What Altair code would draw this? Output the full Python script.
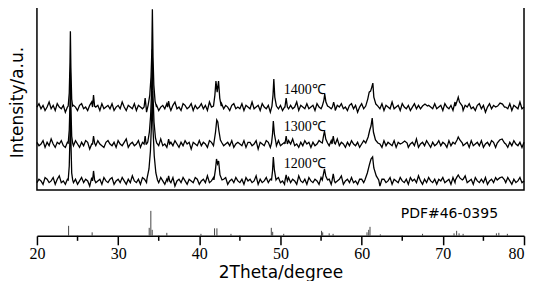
import altair as alt
import pandas as pd

# ---------------- data ----------------
# sampling grid of the measured patterns (degrees 2-theta)
grid_start = 20.0
grid_step = 0.25
grid_count = 241

# vertical offsets of the stacked patterns (a.u.)
samples = ["1200℃", "1300℃", "1400℃"]
offsets = [9, 46, 83]
label_lift = 17
label_two_theta = 50.4

# baseline noise, one value per grid point, in noise counts
noise_unit = 1.7  # a.u. per noise count
noise_1400 = [0,2,-1,1,-2,0,3,-1,1,-2,2,0,-1,1,-3,0,2,-1,1,0,
 -2,1,2,-1,0,-2,1,3,-1,0,1,-2,2,-1,0,1,-1,2,-2,0,
 1,-1,3,0,-2,1,0,-1,2,-2,1,0,-1,2,-3,1,0,2,-1,1,
 -2,0,1,-1,2,0,-2,1,3,-1,0,-2,2,1,-1,0,2,-2,1,-1,
 0,2,-1,1,-2,3,0,-1,1,-2,0,2,-1,1,0,-2,1,2,-1,0,
 -1,2,-2,1,0,-1,3,-1,0,1,-2,2,0,-1,1,-3,1,0,2,-1,
 1,-2,0,2,-1,1,-1,0,3,-2,1,0,-1,2,-1,0,1,-2,2,0,
 -1,1,-2,3,0,-1,1,-2,1,0,2,-1,0,-2,1,2,-1,1,-3,0,
 2,-1,1,0,-2,1,2,-1,0,-1,2,-2,1,0,-1,3,-1,0,1,-2,
 2,0,-1,1,-2,0,2,-1,1,-1,0,3,-2,1,0,-1,2,-1,0,1,
 -2,2,0,-1,1,-2,3,0,-1,1,-2,1,0,2,-1,0,-2,1,2,-1,
 1,-3,0,2,-1,1,0,-2,1,2,-1,0,-1,2,-2,1,0,-1,3,-1,
 0]
noise_1300 = [1,-1,0,2,-2,1,-1,3,0,-2,1,0,2,-1,-2,1,0,1,-1,2,
 0,-2,1,-1,2,1,-3,0,1,-1,2,0,-1,-2,1,2,0,-1,1,-2,
 2,0,-1,1,3,-2,0,1,-1,0,2,-2,1,-1,0,2,1,-2,0,1,
 -1,3,-1,0,-2,1,1,-1,2,0,-2,1,-1,2,0,1,-3,1,0,-1,
 2,-1,1,0,-2,2,1,-1,0,1,-2,3,-1,0,1,-1,2,-2,0,1,
 0,-1,2,-2,1,1,-1,0,2,-3,1,0,-1,2,1,-2,0,1,-1,2,
 -1,0,1,-2,2,0,3,-1,0,-2,1,-1,2,0,1,-2,1,-1,0,2,
 1,-2,0,1,-1,2,-2,0,3,-1,1,0,-2,1,-1,2,0,-1,1,-2,
 0,2,-1,1,-2,0,1,3,-1,0,-2,2,-1,1,0,-1,2,-2,1,0,
 -1,1,2,-2,0,1,-1,3,-2,0,1,-1,2,0,-2,1,-1,0,2,-1,
 1,0,-2,2,-1,1,0,-3,1,2,-1,0,1,-2,2,-1,0,1,-1,2,
 -2,0,1,-1,2,1,-2,0,1,-1,3,0,-2,1,-1,2,0,-1,1,-2,
 1]
noise_1200 = [-1,1,0,-2,2,1,-1,0,2,-2,1,3,-1,0,-2,1,0,2,-1,1,
 -2,0,2,-1,1,0,-3,2,1,-1,0,1,-2,2,0,-1,1,2,-2,0,
 1,-1,2,0,-2,1,-1,3,0,-1,1,-2,2,1,-1,0,2,-2,0,1,
 -1,2,0,-2,1,1,-1,2,-3,0,1,-1,2,0,-2,1,0,-1,2,1,
 -2,0,1,-1,3,-1,0,2,-2,1,0,-1,1,2,-2,0,1,-1,2,0,
 -1,1,-2,2,0,1,-1,0,3,-2,1,-1,0,2,-1,1,-2,0,1,2,
 -1,0,-2,1,2,-1,1,0,-2,3,0,-1,1,-2,2,0,-1,1,0,-2,
 2,1,-1,0,1,-2,2,-1,0,1,3,-2,0,1,-1,2,-1,0,-2,1,
 1,-1,2,0,-2,1,-1,2,0,-3,1,1,-1,0,2,-2,1,0,-1,2,
 0,-1,1,-2,2,0,1,-1,3,0,-2,1,-1,2,0,-1,1,-2,1,0,
 2,-1,0,1,-2,2,-1,1,0,-2,1,3,-1,0,1,-2,2,0,-1,1,
 -1,2,-2,0,1,-1,2,1,-3,0,1,-1,2,0,-2,1,-1,0,2,-1,
 0]

# diffraction peaks: (2-theta, height above baseline in a.u.)
peaks_1400 = [
 [(23.85,1),(23.98,14),(24.07,45),(24.12,76),(24.18,40),(24.28,8),(24.4,1)],
 [(26.85,0),(26.97,12),(27.1,1)],
 [(33.2,0),(33.33,9),(33.45,0)],
 [(33.7,2),(33.9,12),(34.05,30),(34.15,55),(34.22,98),(34.3,50),(34.4,22),(34.55,6),(34.7,1)],
 [(36.1,0),(36.22,6),(36.35,0)],
 [(41.75,1),(41.92,12),(42.05,26),(42.2,15),(42.37,26),(42.52,9),(42.7,1)],
 [(48.95,1),(49.08,12),(49.18,28),(49.3,10),(49.5,1)],
 [(50.55,0),(50.7,9),(50.85,0)],
 [(55.15,1),(55.35,7),(55.45,13),(55.6,5),(55.8,1)],
 [(56.4,0),(56.55,5),(56.7,0)],
 [(60.5,1),(60.75,8),(60.93,15),(61.1,16),(61.25,20),(61.38,24),(61.5,10),(61.75,3),(62.0,1)],
 [(67.5,1),(67.8,3),(68.1,1)],
 [(71.55,1),(71.75,6),(71.9,10),(72.05,5),(72.4,1)],
 [(76.75,1),(77.05,4),(77.35,3),(77.6,0)],
]
peaks_1300 = [
 [(23.85,1),(23.98,14),(24.07,40),(24.12,72),(24.18,38),(24.28,8),(24.4,1)],
 [(26.85,0),(26.97,8),(27.1,1)],
 [(33.2,0),(33.33,8),(33.45,0)],
 [(33.65,2),(33.85,12),(34.0,28),(34.12,52),(34.2,95),(34.3,48),(34.42,22),(34.6,6),(34.75,1)],
 [(36.1,0),(36.22,5),(36.35,0)],
 [(41.8,1),(42.0,12),(42.15,24),(42.28,22),(42.4,14),(42.6,4),(42.8,1)],
 [(48.9,1),(49.02,10),(49.12,23),(49.25,10),(49.45,1)],
 [(50.55,0),(50.7,8),(50.85,0)],
 [(55.15,1),(55.3,8),(55.42,13),(55.58,5),(55.8,1)],
 [(56.35,0),(56.5,8),(56.65,1)],
 [(60.5,1),(60.8,7),(61.0,14),(61.15,18),(61.3,26),(61.45,12),(61.7,4),(62.0,1)],
 [(65.0,1),(65.3,3),(65.6,1)],
 [(71.55,1),(71.75,4),(71.9,7),(72.1,4),(72.4,1)],
 [(76.7,1),(77.0,4),(77.3,5),(77.6,1)],
]
peaks_1200 = [
 [(23.85,1),(23.98,15),(24.07,45),(24.12,75),(24.18,42),(24.28,8),(24.4,1)],
 [(26.85,0),(26.97,10),(27.1,1)],
 [(33.55,2),(33.8,12),(33.98,30),(34.1,55),(34.2,90),(34.3,52),(34.45,25),(34.65,8),(34.85,1)],
 [(36.1,0),(36.22,5),(36.35,0)],
 [(41.8,1),(42.0,12),(42.12,22),(42.25,17),(42.38,20),(42.55,6),(42.8,1)],
 [(48.9,1),(49.02,10),(49.12,24),(49.25,11),(49.45,1)],
 [(50.55,0),(50.7,6),(50.85,0)],
 [(55.15,1),(55.3,7),(55.42,12),(55.58,5),(55.8,1)],
 [(56.35,0),(56.5,7),(56.65,0)],
 [(60.4,1),(60.7,8),(60.95,16),(61.15,22),(61.35,24),(61.5,13),(61.8,5),(62.1,1)],
 [(71.55,1),(71.75,4),(71.9,6),(72.1,3),(72.4,1)],
 [(76.7,1),(77.0,3),(77.3,4),(77.6,1)],
]

# reference card PDF#46-0395
card_name = "PDF#46-0395"
card_two_theta = 76.8
card_level = 21.5
stick_two_theta = [23.9, 26.8, 33.83, 34.03, 34.2, 36.0, 40.2, 41.88, 42.17, 43.9,
                   48.87, 49.04, 50.4, 55.06, 55.2, 56.0, 56.48, 60.66, 60.87, 61.03,
                   62.3, 67.5, 71.38, 71.7, 72.0, 72.5, 76.6, 76.9, 77.95]
stick_height = [10, 3.5, 8, 25, 6, 3, 2, 7.5, 7.5, 2,
                8, 4, 2, 5, 3.5, 2.5, 2, 3.5, 6, 9,
                1.5, 2, 2.5, 5, 2.5, 2, 2.5, 3, 2]

major_ticks = [20, 30, 40, 50, 60, 70, 80]
minor_ticks = [25, 35, 45, 55, 65, 75]

# ---------------- tables ----------------
def build(label, offset, noise, peaks):
    windows = [(g[0][0], g[-1][0]) for g in peaks]
    pts = []
    for i, v in zip(range(grid_count), noise):
        x = grid_start + i * grid_step
        if any(a <= x <= b for a, b in windows):
            continue
        pts.append((x, offset + v * noise_unit))
    for g in peaks:
        for x, h in g:
            pts.append((x, offset + h))
    pts.sort()
    return [{"two_theta": x, "intensity": y, "sample": label} for x, y in pts]

rows = []
for lab, off, nz, pk in zip(samples, offsets,
                            [noise_1200, noise_1300, noise_1400],
                            [peaks_1200, peaks_1300, peaks_1400]):
    rows += build(lab, off, nz, pk)
traces_df = pd.DataFrame(rows)

labels_df = pd.DataFrame({
    "two_theta": [label_two_theta] * len(samples),
    "intensity": [o + label_lift for o in offsets],
    "sample": samples,
})

sticks_df = pd.DataFrame({"two_theta": stick_two_theta, "height": stick_height,
                          "base": [0] * len(stick_height)})
minor_df = pd.DataFrame({"two_theta": minor_ticks})
card_df = pd.DataFrame({"two_theta": [card_two_theta], "height": [card_level],
                        "name": [card_name]})

# ---------------- chart ----------------
W = 488
TOP_H = 183
x_scale = alt.Scale(domain=[20, 80], nice=False, zero=False)
y_top = alt.Scale(domain=[0, TOP_H], nice=False, zero=False)
y_axis = alt.Axis(labels=False, ticks=False, domain=False, grid=False,
                  titleFont="DejaVu Sans", titleFontSize=17, titleFontWeight="normal",
                  titleColor="black", titlePadding=10, titleY=95)

traces = alt.Chart(traces_df).mark_line(color="black", strokeWidth=1.3).encode(
    x=alt.X("two_theta:Q", scale=x_scale, axis=None),
    y=alt.Y("intensity:Q", scale=y_top, axis=y_axis, title="Intensity/a.u."),
    detail="sample:N",
)
texts = alt.Chart(labels_df).mark_text(
    align="left", baseline="middle", font="Liberation Serif", fontSize=14, color="black"
).encode(
    x=alt.X("two_theta:Q", scale=x_scale, axis=None),
    y=alt.Y("intensity:Q", scale=y_top, axis=y_axis, title="Intensity/a.u."),
    text="sample:N",
)
top = alt.layer(traces, texts).properties(
    width=W, height=TOP_H,
    view=alt.ViewBackground(stroke="black", strokeWidth=1.5, fill="white"),
)

H = 30
y_bot = alt.Scale(domain=[0, H], nice=False, zero=False)
x_axis = alt.Axis(values=major_ticks, tickSize=9, tickWidth=1.5, tickColor="black",
                  domainColor="black", domainWidth=1.5, grid=False,
                  labelFont="Liberation Serif", labelFontSize=16, labelColor="black",
                  labelPadding=1, labelFlush=False,
                  labelAlign={"condition": {"test": "datum.value == 80", "value": "right"},
                              "value": "center"},
                  titleFont="DejaVu Sans", titleFontSize=17, titleFontWeight="normal",
                  titleColor="black", titlePadding=3, format="d")
sticks = alt.Chart(sticks_df).mark_rule(color="#444", strokeWidth=1).encode(
    x=alt.X("two_theta:Q", scale=x_scale, axis=x_axis, title="2Theta/degree"),
    y=alt.Y("height:Q", scale=y_bot, axis=None),
    y2="base:Q",
)
minor = alt.Chart(minor_df).mark_rule(color="black", strokeWidth=1.5).encode(
    x=alt.X("two_theta:Q", scale=x_scale, axis=x_axis, title="2Theta/degree"),
    y=alt.value(H), y2=alt.value(H + 5),
)
card = alt.Chart(card_df).mark_text(
    align="right", baseline="middle", font="DejaVu Sans", fontSize=14, color="black"
).encode(
    x=alt.X("two_theta:Q", scale=x_scale, axis=x_axis, title="2Theta/degree"),
    y=alt.Y("height:Q", scale=y_bot, axis=None),
    text="name:N",
)
bottom = alt.layer(sticks, minor, card).properties(width=W, height=H)

chart = alt.vconcat(top, bottom, spacing=15).properties(
    padding={"left": 0, "top": -3, "right": 0, "bottom": 0},
    background="white",
).configure_view(stroke=None)

chart.save("out.html", embed_options={"renderer": "svg", "actions": False})
